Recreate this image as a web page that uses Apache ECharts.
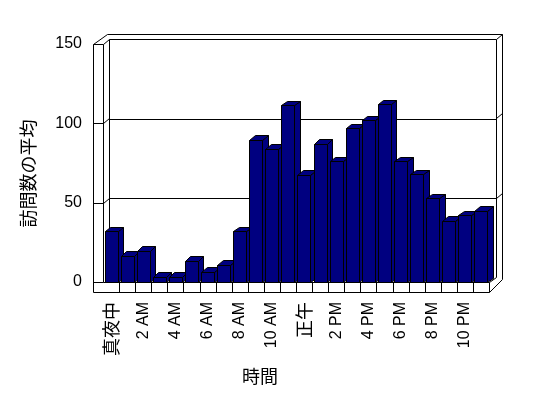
<!DOCTYPE html>
<html><head><meta charset="utf-8">
<style>html,body{margin:0;padding:0;background:#fff}#c{width:548px;height:398px}</style>
<script src="https://cdn.jsdelivr.net/npm/echarts@6/dist/echarts.min.js"></script>
</head><body><div id="c"></div>
<script>
const categories = ['真夜中','1 AM','2 AM','3 AM','4 AM','5 AM','6 AM','7 AM','8 AM','9 AM','10 AM','11 AM','正午','1 PM','2 PM','3 PM','4 PM','5 PM','6 PM','7 PM','8 PM','9 PM','10 PM','11 PM'];
const visits = [32,16.5,19.7,3.4,3.4,13.4,6.5,11,32,89.5,84,111.5,67.5,87,76,97,102,112,76,68,52.7,38.6,42,45];
const yTicks = [0,50,100,150];
const yName = '訪問数の平均';
const xName = '時間';
const NAVY='#000080', DX=5.5, DY=4.5, WALLX=5.5, WALLY=5;
const CJK='"Noto Sans CJK JP"';
const crisp=v=>Math.round(v)+0.5;
const ls={stroke:'#000',lineWidth:1,fill:null};
const chart=echarts.init(document.getElementById('c'),null,{renderer:'canvas'});
function line(a,b,c,d){return {type:'line',shape:{x1:crisp(a),y1:crisp(b),x2:crisp(c),y2:crisp(d)},style:ls};}
function poly(pts,fill){return {type:'polygon',shape:{points:pts.map(p=>[crisp(p[0]),crisp(p[1])])},style:{fill:fill,stroke:'#000',lineWidth:1}};}
chart.setOption({
  animation:false,
  textStyle:{fontFamily:'"Liberation Sans","Noto Sans CJK JP"'},
  grid:{left:103,right:59,top:44,bottom:116,containLabel:false},
  xAxis:{type:'category',data:categories,name:xName,nameLocation:'middle',nameGap:85,
    nameTextStyle:{color:'#000',fontSize:18,fontFamily:CJK,padding:[0,72,0,0]},
    axisLine:{show:false},axisTick:{show:false},splitLine:{show:false},
    axisLabel:{interval:1,rotate:90,color:'#000',fontSize:16,margin:20,fontFamily:'"Liberation Sans"',
      formatter:v=>/[A-Z]/.test(v)?v:'{c|'+v+'}',
      rich:{c:{fontSize:18,fontFamily:CJK,color:'#000'}}}},
  yAxis:{type:'value',min:0,max:150,interval:50,name:yName,nameLocation:'middle',nameGap:66,
    nameTextStyle:{color:'#000',fontSize:18,fontFamily:CJK,padding:[0,21,0,0]},
    axisLine:{show:false},axisTick:{show:false},splitLine:{show:false},
    axisLabel:{color:'#000',fontSize:16,margin:21,padding:[2,0,0,0]}},
  series:[
   {type:'custom',silent:true,z:1,coordinateSystem:'cartesian2d',data:[0],encode:{x:[],y:[]},
    renderItem(params,api){
      const cs=params.coordSys, L=cs.x, R=cs.x+cs.width, T=cs.y, B=cs.y+cs.height;
      const c=[];
      const bL=L+WALLX, bR=R+WALLX+1, bT=T-WALLY, bB=B-WALLY;
      const oL=L-10, oT=T-10, oR=R+13, oB=B+10;
      c.push(line(bL,bT,bR,bT));
      c.push(line(bL,bT,bL,B));
      c.push(line(bR,bT,bR,bB));
      yTicks.slice(1,3).forEach(v=>{
        const y=api.coord([0,v])[1];
        c.push(line(bL,y-WALLY+0.5,bR,y-WALLY+0.5));
        c.push(line(L,y,bL,y-WALLY));
        c.push(line(oL,y,L,y));
        c.push(line(bR,y-WALLY,oR,y-WALLY-5));
      });
      c.push(line(oL,T,L,T));
      c.push(line(L,T,bL,bT));
      c.push(line(oL,T,oL+14,oT));
      c.push(line(oL+14,oT,oR,oT));
      c.push(line(oR,oT,oR,oB-13));
      c.push(line(bR,bT,oR,oT));
      c.push(line(oL,T,oL,oB));
      c.push(line(L,T,L,B));
      c.push(line(oL,oB,R,oB));
      c.push(line(L,B,R,B));
      c.push(line(R,B,R,oB));
      c.push(line(R,B,bR,bB));
      c.push(line(R,oB,oR,oB-13));
      c.push(line(oL,B,L,B));
      categories.forEach((n,i)=>{
        if(i===0) return;
        const x=L+cs.width*i/categories.length;
        c.push(line(x,B,x,oB));
      });
      return {type:'group',children:c};
    }},
   {type:'custom',z:2,coordinateSystem:'cartesian2d',data:visits.map((v,i)=>[i,v]),encode:{x:0,y:1},
    renderItem(params,api){
      const i=api.value(0), top=api.coord([i,api.value(1)]), base=api.coord([i,0]);
      const band=api.size([1,0])[0];
      const x0=top[0]-band/2+1.5, x1=x0+13, y0=top[1], y1=base[1];
      return {type:'group',children:[
        poly([[x1,y0],[x1+DX,y0-DY],[x1+DX,y1-DY],[x1,y1]],NAVY),
        poly([[x0,y0],[x0+DX,y0-DY],[x1+DX,y0-DY],[x1,y0]],NAVY),
        poly([[x0,y0],[x1,y0],[x1,y1],[x0,y1]],NAVY)
      ]};
    }}
  ]
});
</script></body></html>
